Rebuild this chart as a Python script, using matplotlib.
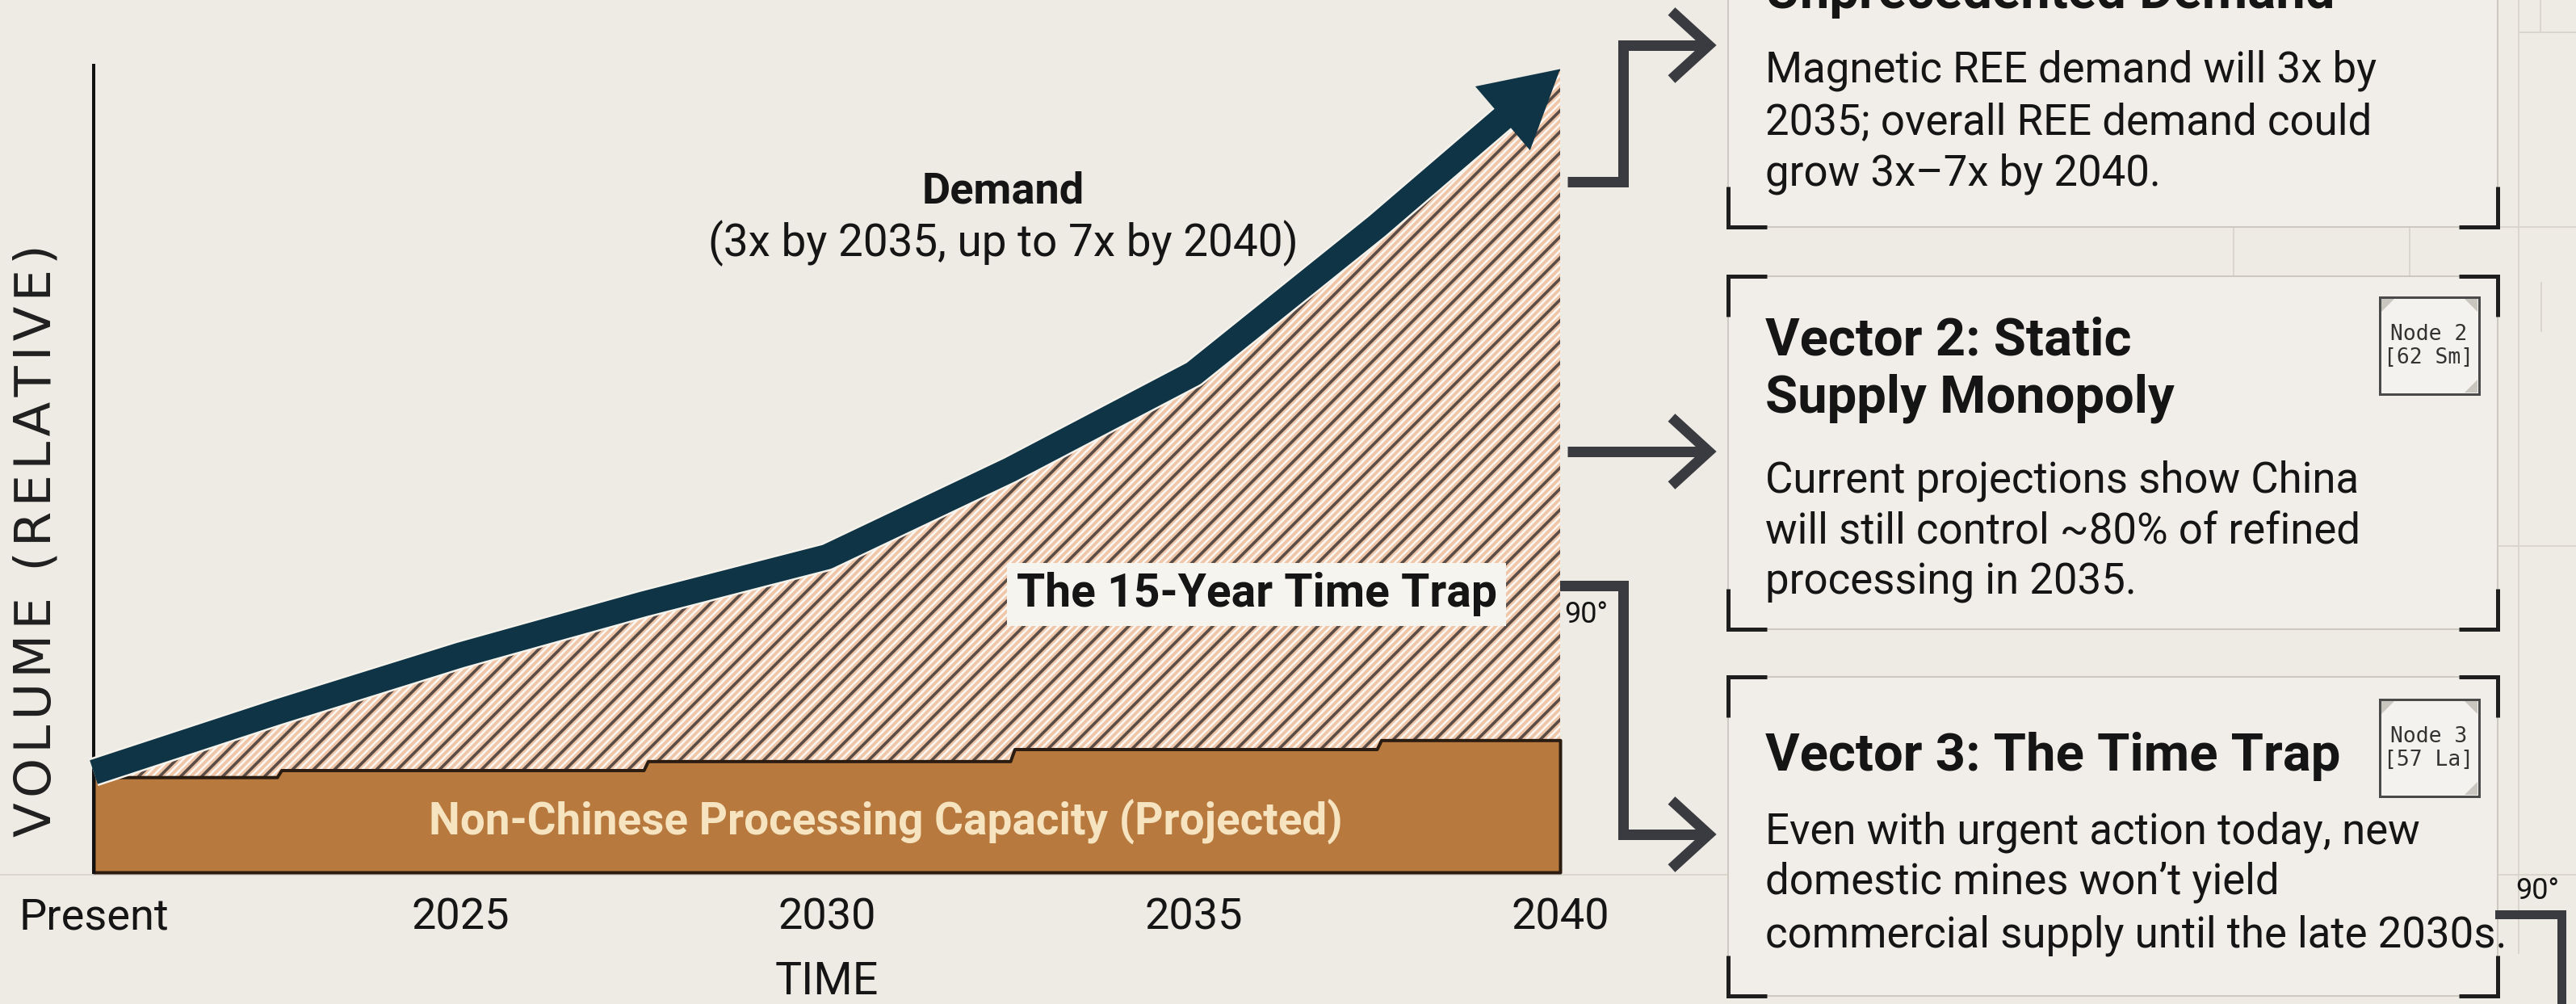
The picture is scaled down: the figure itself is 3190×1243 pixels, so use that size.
"""Demand vs non-Chinese processing capacity infographic, with the three vector panels."""

import matplotlib
matplotlib.use("Agg")
import matplotlib.patheffects as pe
import matplotlib.pyplot as plt
import numpy as np
from matplotlib import font_manager
from matplotlib.collections import LineCollection
from matplotlib.patches import Polygon, Rectangle

# ---- data -------------------------------------------------------------
tick_years = [2020, 2025, 2030, 2035, 2040]
tick_labels = ["Present", "2025", "2030", "2035", "2040"]

demand_years = [2020, 2022.5, 2025, 2027.5, 2030, 2032.5, 2035, 2037.5, 2040]
demand_values = [1.0, 1.6, 2.17, 2.68, 3.15, 4.02, 4.98, 6.45, 8.02]

capacity_breaks = [2020, 2022.5, 2027.5, 2032.5, 2037.5, 2040]
capacity_levels = [0.95, 1.02, 1.11, 1.23, 1.32]

panel_titles = [
    "Unprecedented Demand",
    "Vector 2: Static\nSupply Monopoly",
    "Vector 3: The Time Trap",
]
panel_bodies = [
    ["Magnetic REE demand will 3x by", "2035; overall REE demand could", "grow 3x\u20137x by 2040."],
    ["Current projections show China", "will still control ~80% of refined", "processing in 2035."],
    ["Even with urgent action today, new", "domestic mines won\u2019t yield", "commercial supply until the late 2030s."],
]
panel_badges = [None, "Node 2\n[62 Sm]", "Node 3\n[57 La]"]

# ---- style ------------------------------------------------------------
W, H, DPI = 3190, 1243, 100
BG = "#eeebe4"
BOX_FACE = "#f1eee9"
BOX_EDGE = "#cdc9c1"
BRACKET = "#1e1e1e"
ARROW = "#3a3a41"
NAVY = "#0e3446"
BROWN = "#b7793d"
PEACH = "#efc6a8"
INK = "#151515"
FAINT = "#dad6ce"

names = {f.name for f in font_manager.fontManager.ttflist}
SANS = "Roboto" if "Roboto" in names else "DejaVu Sans"
plt.rcParams["font.family"] = [SANS, "DejaVu Sans"]


def pt(pixels):
    return pixels * 72 / DPI


fig = plt.figure(figsize=(W / DPI, H / DPI), dpi=DPI, facecolor=BG)

# overlay in pixel coordinates for the panels, connectors and loose labels
ov = fig.add_axes([0, 0, 1, 1], zorder=0)
ov.set_xlim(0, W)
ov.set_ylim(H, 0)
ov.axis("off")

# faint background grid
for xs, ys in [
    ([0, 2140], [1083, 1083]), ([3093, W], [1083, 1083]),
    ([3119, 3119], [0, 1180]), ([3146, 3146], [0, 40]), ([3119, W], [40, 40]),
    ([3093, W], [281, 281]), ([3093, W], [676, 676]),
    ([2766, 2766], [281, 342]), ([2984, 2984], [281, 342]), ([3147, 3147], [350, 410]),
]:
    ov.plot(xs, ys, color=FAINT, lw=pt(2), zorder=0)

# ---- chart axes -------------------------------------------------------
left, right, top, bottom = 116, 1932, 81, 1080
ytop = (bottom - top) / 124
ax = fig.add_axes([left / W, 1 - bottom / H, (right - left) / W, (bottom - top) / H], zorder=1)
ax.patch.set_alpha(0)
ax.set_xlim(2020, 2040)
ax.set_ylim(0, ytop)
for s in ("top", "right", "bottom"):
    ax.spines[s].set_visible(False)
ax.spines["left"].set_linewidth(pt(4))
ax.spines["left"].set_color("#111111")
ax.set_yticks([])
ax.set_xticks(tick_years, tick_labels)
ax.tick_params(axis="x", length=0, pad=22, labelsize=39, labelcolor=INK)
ax.set_xlabel("TIME", fontsize=40, color=INK, labelpad=20)

# capacity step path
cap_x, cap_y = [], []
for i, lvl in enumerate(capacity_levels):
    start = capacity_breaks[i] + (0.06 if i > 0 else 0)
    cap_x += [start, capacity_breaks[i + 1]]
    cap_y += [lvl, lvl]

# gap region (demand above capacity) with striped texture
gap_verts = list(zip(demand_years, demand_values)) + list(zip(cap_x[::-1], cap_y[::-1]))
gap = Polygon(gap_verts, closed=True, facecolor=PEACH, edgecolor="none", zorder=1)
ax.add_patch(gap)

px_year = (right - left) / 20
px_unit = 124
period = 26 / px_year
rise = ytop * px_unit / px_year
starts = np.arange(2020 - rise - period, 2040 + period, period)
for off, col, lw in [(0.0, "#5a4c47", 3.6), (8 / px_year, "#fbf7f2", 2.6), (17 / px_year, "#fbf7f2", 2.6)]:
    segs = [[(s + off, 0), (s + off + rise, ytop)] for s in starts]
    lc = LineCollection(segs, colors=col, linewidths=pt(lw), zorder=1.5)
    ax.add_collection(lc)
    lc.set_clip_path(gap)

ax.fill_between(cap_x, 0, cap_y, facecolor=BROWN, edgecolor="#2b1c12",
                linewidth=pt(4), zorder=2, clip_on=False)

# demand line, stopped at the arrow head base
head_px = 82
dx = (demand_years[-1] - demand_years[-2]) * px_year
dy = (demand_values[-1] - demand_values[-2]) * px_unit
frac = head_px / np.hypot(dx, dy)
cut_year = demand_years[-1] - frac * (demand_years[-1] - demand_years[-2])
cut_val = demand_values[-1] - frac * (demand_values[-1] - demand_values[-2])
line_x = demand_years[:-1] + [cut_year]
line_y = demand_values[:-1] + [cut_val]
ax.plot(line_x, line_y, color=NAVY, lw=pt(31), solid_capstyle="butt", solid_joinstyle="round",
        zorder=3, clip_on=False,
        path_effects=[pe.Stroke(linewidth=pt(36), foreground="#f6f3ec"), pe.Normal()])
ax.annotate("", xy=(demand_years[-1], demand_values[-1]),
            xytext=(demand_years[-2], demand_values[-2]),
            arrowprops=dict(arrowstyle="-|>,head_length=1.35,head_width=0.75", mutation_scale=50,
                            color=NAVY, lw=0, shrinkA=0, shrinkB=0, clip_on=False),
            annotation_clip=False, zorder=3)

ax.text(2032.4, 6.68, "Demand", ha="center", va="baseline", fontsize=39,
        fontweight="bold", color=INK, zorder=4)
ax.text(2032.4, 6.15, "(3x by 2035, up to 7x by 2040)", ha="center", va="baseline",
        fontsize=39.5, color=INK, zorder=4)
ax.text(2030.8, 0.38, "Non-Chinese Processing Capacity (Projected)", ha="center",
        va="baseline", fontsize=39.5, fontweight="bold", color="#f6e3c0", zorder=4)
ax.text(2035.86, 2.65, "The 15-Year Time Trap", ha="center", va="baseline", fontsize=41,
        fontweight="bold", color=INK, zorder=4,
        bbox=dict(boxstyle="square,pad=0.2", facecolor="#f6f4ef", edgecolor="none"))

ylabel = "\u200a".join("VOLUME (RELATIVE)")
ov.text(46, 669, ylabel, rotation=90, ha="center", va="center",
        fontsize=45, color="#1f1f1f", family="DejaVu Sans")

# ---- connectors -------------------------------------------------------
def connector(points, tip):
    xs, ys = zip(*points)
    ov.plot(xs, ys, color=ARROW, lw=pt(13), solid_joinstyle="miter", solid_capstyle="butt", zorder=2)
    tx, ty = tip
    ov.plot([tx - 46, tx, tx - 46], [ty - 42, ty, ty + 42], color=ARROW, lw=pt(13),
            solid_joinstyle="miter", solid_capstyle="butt", zorder=2)


connector([(1941, 225), (2010, 225), (2010, 56), (2112, 56)], (2116, 56))
connector([(1941, 559), (2112, 559)], (2116, 559))
connector([(1861, 725), (2010, 725), (2010, 1033), (2112, 1033)], (2116, 1033))
ov.text(1937, 771, "90\u00b0", fontsize=26, color=INK, va="baseline")
ov.text(3115, 1113, "90\u00b0", fontsize=26, color=INK, va="baseline")
ov.plot([3095, 3172, 3172], [1132, 1132, H + 20], color=ARROW, lw=pt(11),
        solid_joinstyle="miter", zorder=2)

# ---- panels -----------------------------------------------------------
box_left, box_right = 2140, 3093
panel_rows = [(-60, 281), (342, 779), (838, 1233)]
title_baselines = [[10], [439, 510], [954]]
body_baselines = [[101, 166, 229], [609, 672, 735], [1045, 1107, 1172]]
badge_tops = [None, 368, 866]

for i, (ptop, pbot) in enumerate(panel_rows):
    ov.add_patch(Rectangle((box_left, ptop), box_right - box_left, pbot - ptop,
                           facecolor=BOX_FACE, edgecolor=BOX_EDGE, lw=pt(2), zorder=1))
    for cx, cy, sx, sy in [(box_left, ptop, 1, 1), (box_right, ptop, -1, 1),
                           (box_left, pbot, 1, -1), (box_right, pbot, -1, -1)]:
        ov.plot([cx + sx * 48, cx, cx], [cy, cy, cy + sy * 50], color=BRACKET, lw=pt(5),
                solid_joinstyle="miter", solid_capstyle="butt", zorder=3)
    for line, yb in zip(panel_titles[i].split("\n"), title_baselines[i]):
        ov.text(2186, yb, line, fontsize=47, fontweight="bold", color=INK, va="baseline", zorder=4)
    for line, yb in zip(panel_bodies[i], body_baselines[i]):
        ov.text(2186, yb, line, fontsize=38, color=INK, va="baseline", zorder=4)
    if panel_badges[i]:
        bt = badge_tops[i]
        ov.add_patch(Rectangle((2947, bt), 123, 120, facecolor="#f4f2ee", edgecolor="#4a4a4a",
                               lw=pt(3), zorder=4))
        for tri in ([(2949, bt + 2), (2965, bt + 2), (2949, bt + 18)],
                    [(3068, bt + 2), (3052, bt + 2), (3068, bt + 18)],
                    [(3068, bt + 118), (3052, bt + 118), (3068, bt + 102)]):
            ov.add_patch(Polygon(tri, closed=True, facecolor="#c9c6c0", edgecolor="none", zorder=4.5))
        ov.text(3008, bt + 60, panel_badges[i], ha="center", va="center", fontsize=19,
                family="DejaVu Sans Mono", color="#333333", linespacing=1.15, zorder=5)

fig.savefig("out.png", dpi=DPI, facecolor=BG)
